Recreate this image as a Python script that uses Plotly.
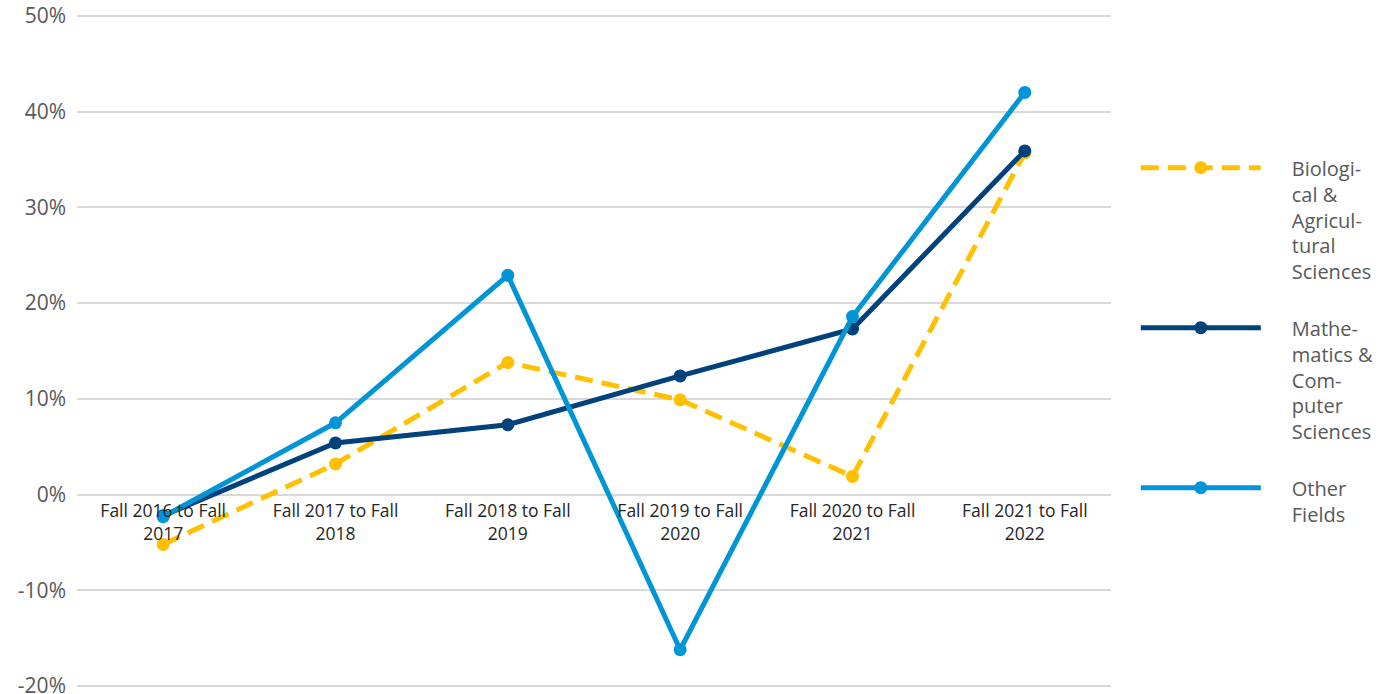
import plotly.graph_objects as go

categories = ["Fall 2016 to Fall<br>2017", "Fall 2017 to Fall<br>2018", "Fall 2018 to Fall<br>2019",
              "Fall 2019 to Fall<br>2020", "Fall 2020 to Fall<br>2021", "Fall 2021 to Fall<br>2022"]
bio = [-5.2, 3.2, 13.8, 9.9, 1.9, 35.7]
math = [-2.2, 5.4, 7.3, 12.4, 17.3, 35.9]
other = [-2.3, 7.5, 22.9, -16.2, 18.6, 42.0]
name_lines = [["Biologi-", "cal &", "Agricul-", "tural", "Sciences"],
              ["Mathe-", "matics &", "Com-", "puter", "Sciences"],
              ["Other", "Fields"]]
y_ticks = [-20, -10, 0, 10, 20, 30, 40, 50]
y_ticktext = [f"{v}%" for v in y_ticks]

pad = "\u00a0" * 5
names = ["<br>".join(pad + s for s in lines) for lines in name_lines]

y_range = [-20.3, 50.3]

fig = go.Figure()
fig.add_trace(go.Scatter(x=categories, y=bio, name=names[0], legendgroup="g1", mode="lines+markers",
                         line=dict(color="#FFC000", width=5, dash="18px,9px"),
                         marker=dict(size=13, color="#FFC000")))
fig.add_trace(go.Scatter(x=categories, y=math, name=names[1], legendgroup="g2", mode="lines+markers",
                         line=dict(color="#02427C", width=5),
                         marker=dict(size=13, color="#02427C")))
fig.add_trace(go.Scatter(x=categories, y=other, name=names[2], legendgroup="g3", mode="lines+markers",
                         line=dict(color="#0095D6", width=5),
                         marker=dict(size=13, color="#0095D6")))

fig.update_layout(
    width=1395, height=694,
    margin=dict(l=77, r=284, t=13, b=5, autoexpand=False),
    plot_bgcolor="white", paper_bgcolor="white",
    font=dict(family="Open Sans", size=18, color="#595959"),
    legend=dict(x=1.024, y=0.8, xanchor="left", yanchor="top", valign="top",
                font=dict(size=20, color="#595959"), tracegroupgap=27, itemwidth=120),
    showlegend=True,
)
fig.update_yaxes(range=y_range, tickvals=y_ticks, ticktext=y_ticktext, automargin=False,
                 showgrid=True, gridcolor="#D9D9D9", gridwidth=1.5, zeroline=False,
                 showline=False, ticks="", ticklabelstandoff=10, ticklabeloverflow="allow",
                 tickfont=dict(size=21, color="#595959"))
fig.update_xaxes(anchor="free", position=(0 - y_range[0]) / (y_range[1] - y_range[0]),
                 automargin=False,
                 showgrid=False, zeroline=False, showline=False, ticks="",
                 ticklabelstandoff=4,
                 tickfont=dict(size=17.5, color="#262626"),
                 range=[-0.5, 5.5])

fig.write_html("out.html")
